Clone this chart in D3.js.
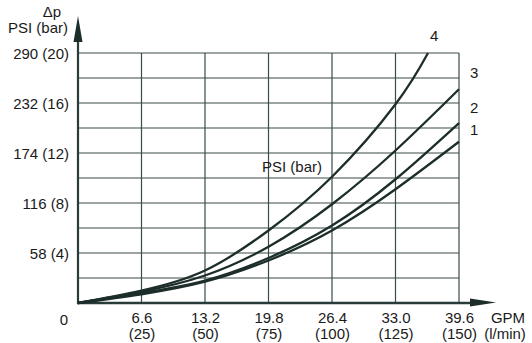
<!DOCTYPE html>
<html>
<head>
<meta charset="utf-8">
<script src="https://cdn.jsdelivr.net/npm/d3@7"></script>
<style>
  html, body { margin: 0; padding: 0; background: #fff; }
  svg { display: block; font-family: "Liberation Sans", Arial, sans-serif; }
  text { fill: #1a1a1a; font-size: 15px; }
</style>
</head>
<body>
<svg id="chart" width="532" height="343"></svg>
<script>
// Flow in l/min with matching GPM labels
const flowTicks = [25, 50, 75, 100, 125, 150];
const gpmLabels = ["6.6", "13.2", "19.8", "26.4", "33.0", "39.6"];

// Pressure drop gridlines in bar, labelled ticks with PSI equivalents
const barGrid = [2, 4, 6, 8, 10, 12, 14, 16, 18, 20];
const barTicks = [4, 8, 12, 16, 20];
const psiLabels = ["58", "116", "174", "232", "290"];

// Pressure drop curves (flow l/min, Δp bar)
const curveNames = ["1", "2", "3", "4"];
const curve1 = [[0, 0], [25, 0.7], [50, 1.7], [75, 3.4], [100, 5.8], [125, 9.1], [150, 12.9]];
const curve2 = [[0, 0], [25, 0.8], [50, 1.8], [75, 3.6], [100, 6.2], [125, 9.9], [150, 14.4]];
const curve3 = [[0, 0], [25, 0.9], [50, 2.2], [75, 4.5], [100, 7.9], [125, 12.2], [150, 17.1]];
const curve4 = [[0, 0], [25, 1.0], [50, 2.6], [75, 5.8], [100, 10.1], [125, 15.9], [137.8, 20]];
const curves = [curve1, curve2, curve3, curve4];

const svg = d3.select("#chart");
const x = d3.scaleLinear().domain([0, 150]).range([78, 459]);
const y = d3.scaleLinear().domain([0, 20]).range([303, 53]);

const gridColor = "#3a4c49";
const inkColor = "#1c2d2a";

// Grid
const grid = svg.append("g").attr("stroke", gridColor).attr("stroke-width", 1.2);
grid.selectAll("line.h").data(barGrid).join("line")
  .attr("class", "h")
  .attr("x1", x(0)).attr("x2", x(150))
  .attr("y1", d => y(d)).attr("y2", d => y(d));
grid.selectAll("line.v").data(flowTicks).join("line")
  .attr("class", "v")
  .attr("x1", d => x(d)).attr("x2", d => x(d))
  .attr("y1", y(0)).attr("y2", y(20));

// Y axis labels
const yAxis = d3.axisLeft(y)
  .tickValues(barTicks)
  .tickSize(0)
  .tickPadding(9)
  .tickFormat((d, i) => `${psiLabels[i]} (${d})`);
const gy = svg.append("g").attr("transform", `translate(${x(0)},0)`).call(yAxis);
gy.select(".domain").remove();
gy.attr("font-size", null).attr("font-family", null);
gy.selectAll("text").attr("fill", "#1a1a1a").attr("dy", "0.36em");

// X axis labels (two lines: GPM over l/min)
const xAxis = d3.axisBottom(x).tickValues(flowTicks).tickSize(0).tickFormat("");
const gx = svg.append("g").attr("transform", `translate(0,${y(0)})`).call(xAxis);
gx.select(".domain").remove();
gx.attr("font-size", null).attr("font-family", null);
gx.selectAll(".tick").each(function (d, i) {
  const t = d3.select(this);
  t.append("text").attr("text-anchor", "middle").attr("y", 20).text(gpmLabels[i]);
  t.append("text").attr("text-anchor", "middle").attr("y", 36).text(`(${d})`);
});

svg.append("text").attr("x", 64).attr("y", 325).attr("text-anchor", "middle").text("0");
svg.append("text").attr("x", 508).attr("y", 323).attr("text-anchor", "middle").text("GPM");
svg.append("text").attr("x", 505).attr("y", 339).attr("text-anchor", "middle").text("(l/min)");
svg.append("text").attr("x", 52).attr("y", 17).attr("text-anchor", "middle").text("Δp");
svg.append("text").attr("x", 68).attr("y", 33).attr("text-anchor", "end").text("PSI (bar)");
svg.append("text").attr("x", 262).attr("y", 172).text("PSI (bar)");

// Axes with arrowheads
svg.append("line").attr("x1", x(0)).attr("x2", x(0)).attr("y1", y(0) + 1).attr("y2", 40)
  .attr("stroke", "#2a3c39").attr("stroke-width", 2.2);
svg.append("path").attr("d", `M${x(0) - 4.5},42 L${x(0)},16 L${x(0) + 4.5},42 Z`).attr("fill", "#1c2d2a");
svg.append("line").attr("x1", x(0) - 1).attr("x2", 472).attr("y1", y(0)).attr("y2", y(0))
  .attr("stroke", "#2a3c39").attr("stroke-width", 2.4);
svg.append("path").attr("d", `M470,298.5 L496,302.5 L470,306.5 Z`).attr("fill", "#1c2d2a");

// Curves
const line = d3.line().x(d => x(d[0])).y(d => y(d[1])).curve(d3.curveNatural);
svg.append("g").selectAll("path").data(curves).join("path")
  .attr("d", line)
  .attr("fill", "none")
  .attr("stroke", inkColor)
  .attr("stroke-width", 2.3);

// Curve numbers
const namePos = [[470, 135], [470, 113], [470, 78], [430, 41]];
svg.append("g").selectAll("text").data(curveNames).join("text")
  .attr("x", (d, i) => namePos[i][0])
  .attr("y", (d, i) => namePos[i][1])
  .text(d => d);
</script>
</body>
</html>
